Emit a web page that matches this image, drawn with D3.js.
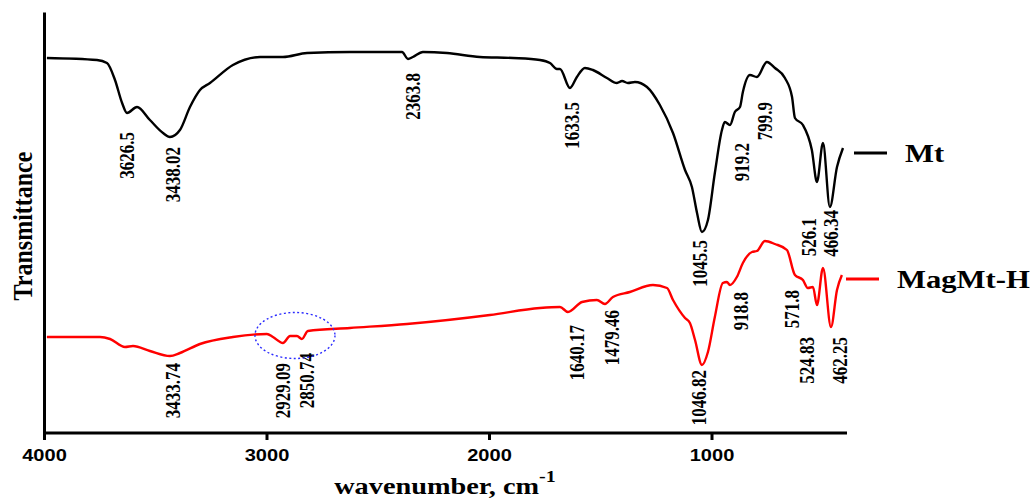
<!DOCTYPE html>
<html>

<head>
    <meta charset="utf-8">
    <title>FTIR spectra Mt / MagMt-H</title>
    <script src="https://cdn.jsdelivr.net/npm/d3@7"></script>
    <style>
        body {
            margin: 0;
            background: #fff;
        }
        .peak {
            font-family: "Liberation Serif", "Times New Roman", serif;
            font-weight: bold;
            font-size: 17px;
        }
        .legend, .title {
            font-family: "Liberation Serif", "Times New Roman", serif;
            font-weight: bold;
        }
        .tick text {
            font-family: "Liberation Sans", Arial, sans-serif;
            font-weight: bold;
            font-size: 17px;
        }
    </style>
</head>

<body>
</body>
<script>
    // wavenumber (cm-1) / transmittance (arbitrary units)
    var mtWave = [3987, 3762, 3717, 3681, 3649, 3627, 3582, 3524, 3465, 3434, 3389, 3344, 3299, 3254, 3151, 3029,
        2926, 2818, 2625, 2391, 2364, 2342, 2297, 2189, 2041, 1892, 1771, 1726, 1695, 1681, 1636, 1605, 1569,
        1533, 1470, 1425, 1402, 1376, 1344, 1290, 1232, 1173, 1119, 1088, 1065, 1043, 1016, 985, 953, 940, 917,
        895, 872, 859, 827, 796, 751, 715, 670, 638, 625, 589, 549, 526, 499, 468, 436, 409];
    var mtTrans = [75.0, 74.6, 74.0, 70.6, 66.0, 64.0, 65.2, 62.6, 60.0, 59.2, 60.6, 65.2, 68.6, 70.0, 73.6, 75.2,
        75.2, 76.0, 76.2, 76.2, 74.8, 75.2, 76.2, 76.0, 75.2, 75.0, 74.6, 74.0, 72.8, 72.8, 69.0, 71.2, 73.0,
        72.6, 71.0, 70.0, 70.4, 70.0, 70.2, 69.2, 65.6, 60.0, 52.6, 49.2, 44.0, 40.2, 42.6, 52.0, 60.6, 62.2, 61.6,
        64.2, 65.2, 68.2, 71.6, 71.2, 74.2, 73.0, 71.0, 67.2, 63.0, 61.6, 56.6, 50.2, 58.0, 45.2, 53.2, 57.0];

    var magWave = [3987, 3748, 3703, 3636, 3600, 3524, 3434, 3389, 3299, 3151, 2998, 2971, 2926, 2894, 2863, 2841,
        2814, 2625, 2369, 1996, 1771, 1681, 1645, 1582, 1515, 1479, 1443, 1367, 1263, 1200, 1173, 1119, 1097,
        1074, 1043, 1016, 985, 949, 931, 917, 886, 859, 818, 796, 760, 715, 661, 625, 589, 567, 544, 526, 499,
        463, 436, 414];
    var magTrans = [19.2, 19.2, 18.8, 17.2, 17.4, 16.4, 15.4, 16.0, 17.8, 19.2, 19.8, 19.2, 18.0, 19.4, 19.4, 18.8,
        20.4, 21.0, 21.8, 23.6, 25.0, 25.2, 24.2, 26.2, 26.6, 25.8, 27.2, 28.2, 29.6, 29.0, 26.6, 23.0, 22.0,
        18.6, 13.6, 16.2, 23.2, 30.0, 30.2, 29.6, 31.2, 34.0, 36.2, 36.4, 38.4, 37.8, 36.6, 31.6, 30.6, 29.0, 29.2,
        25.6, 33.0, 21.2, 28.6, 31.6];

    // peak labels: text, anchor wavenumber, anchor transmittance (top of label)
    var mtPeaks = ["3626.5", "3438.02", "2363.8", "1633.5", "1045.5", "919.2", "799.9", "526.1", "466.34"];
    var mtPeakWave = [3627, 3420, 2342, 1627, 1052, 863, 760, 562, 463];
    var mtPeakTrans = [60.2, 57.2, 72.0, 66.2, 38.6, 58.0, 66.2, 43.0, 44.6];

    var magPeaks = ["3433.74", "2929.09", "2850.74", "1640.17", "1479.46", "1046.82", "918.8", "571.8", "524.83", "462.25"];
    var magPeakWave = [3420, 2926, 2818, 1605, 1447, 1056, 868, 639, 571, 423];
    var magPeakTrans = [14.0, 14.0, 16.0, 21.6, 24.6, 12.6, 28.2, 28.6, 19.2, 19.2];

    var xTicks = [4000, 3000, 2000, 1000];
    var seriesNames = ["Mt", "MagMt-H"];
    var seriesColors = ["#000000", "#ff0000"];

    (function () {
        var width = 1036, height = 500;
        var stretch = 1.18;

        var svg = d3.select('body').append('svg').attr('width', width).attr('height', height);

        var x = d3.scaleLinear().domain([4000, 400]).range([44, 845]);
        var y = d3.scaleLinear().domain([0, 84.2]).range([433, 12]);

        var zip = function (a, b) {
            return a.map(function (d, i) { return [d, b[i]]; });
        };
        var series = [zip(mtWave, mtTrans), zip(magWave, magTrans)];

        var line = d3.line()
            .x(d => x(d[0]))
            .y(d => y(d[1]))
            .curve(d3.curveMonotoneX);

        svg.selectAll('.spectrum').data(series)
            .enter().append('path').attr('class', 'spectrum')
            .attr('d', line)
            .attr('fill', 'none')
            .attr('stroke', (d, i) => seriesColors[i])
            .attr('stroke-width', 2.4)
            .attr('stroke-linejoin', 'round');

        // axes
        var xAxis = svg.append('g').attr('transform', 'translate(0,433)')
            .call(d3.axisBottom(x).tickValues(xTicks).tickSize(7).tickSizeOuter(0).tickFormat(d3.format('d')));
        xAxis.select('.domain').attr('stroke-width', 3).attr('d', 'M' + x(4000) + ',0H' + (x(400) + 2));
        xAxis.selectAll('.tick line').attr('stroke-width', 3);
        xAxis.selectAll('.tick text').attr('y', 16).attr('dy', '0.71em').attr('fill', '#000')
            .attr('transform', 'scale(' + stretch + ',1)');

        var yAxis = svg.append('g').attr('transform', 'translate(' + x(4000) + ',0)')
            .call(d3.axisLeft(y).tickValues([]).tickSizeOuter(0));
        yAxis.select('.domain').attr('stroke-width', 3);

        // peak labels
        var addPeaks = function (names, wave, trans) {
            svg.append('g').selectAll('text').data(names)
                .enter().append('text').attr('class', 'peak')
                .attr('transform', (d, i) => 'translate(' + x(wave[i]) + ',' + y(trans[i]) + ') rotate(-90) scale(1,' + stretch + ')')
                .attr('text-anchor', 'end')
                .attr('dy', '0.35em')
                .text(d => d);
        };
        addPeaks(mtPeaks, mtPeakWave, mtPeakTrans);
        addPeaks(magPeaks, magPeakWave, magPeakTrans);

        // dotted circle round the C-H bands
        svg.append('ellipse')
            .attr('cx', x(2872)).attr('cy', y(19.5))
            .attr('rx', 40).attr('ry', 23)
            .attr('fill', 'none')
            .attr('stroke', '#2a2aff')
            .attr('stroke-width', 1.4)
            .attr('stroke-dasharray', '2,2.5');

        // legend
        var legendPos = [[854, 153], [846, 279]];
        var legend = svg.selectAll('.legend-item').data(seriesNames)
            .enter().append('g').attr('class', 'legend-item')
            .attr('transform', (d, i) => 'translate(' + legendPos[i][0] + ',' + legendPos[i][1] + ')');
        legend.append('line')
            .attr('x1', 0).attr('x2', 33)
            .attr('stroke', (d, i) => seriesColors[i])
            .attr('stroke-width', 3);
        legend.append('text').attr('class', 'legend')
            .attr('transform', 'translate(51,9) scale(' + stretch + ',1)')
            .style('font-size', '26px')
            .text(d => d);

        // axis titles
        var xTitle = svg.append('text').attr('class', 'title')
            .attr('transform', 'translate(445,494) scale(' + stretch + ',1)')
            .attr('text-anchor', 'middle')
            .style('font-size', '24px');
        xTitle.append('tspan').text('wavenumber, cm');
        xTitle.append('tspan').attr('dy', -12).style('font-size', '17px').text('-1');

        svg.append('text').attr('class', 'title')
            .attr('transform', 'translate(32,226) rotate(-90) scale(1,' + stretch + ')')
            .attr('text-anchor', 'middle')
            .style('font-size', '24px')
            .text('Transmittance');
    }).call(this);
</script>

</html>
